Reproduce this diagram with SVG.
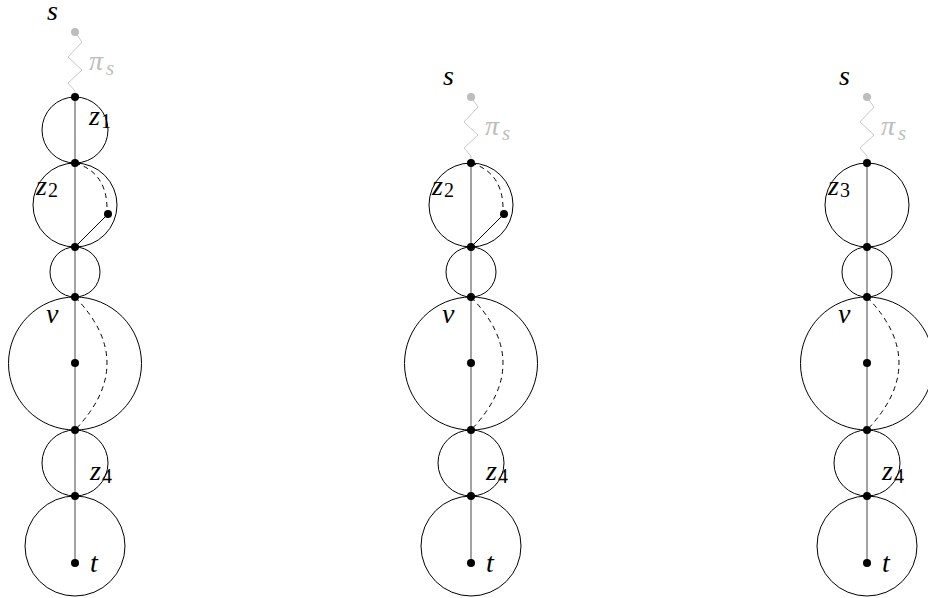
<svg xmlns="http://www.w3.org/2000/svg" width="928" height="598" viewBox="0 0 928 598">
<style>
.c{fill:none;stroke:#000;stroke-width:1}
.ax{stroke:#666;stroke-width:1.2}
.d{fill:none;stroke:#000;stroke-width:1;stroke-dasharray:5,4}
.n{fill:#000}
.g{fill:#bdbdbd}
.zz{fill:none;stroke:#c8c8c8;stroke-width:1}
.t{font-family:'Liberation Serif','Times New Roman',serif;font-style:italic;font-size:28px;fill:#000}
.tg{font-family:'Liberation Serif','Times New Roman',serif;font-style:italic;font-size:28px;fill:#bdbdbd}
.sb{font-size:20px;font-style:normal}
.sbi{font-size:21px}
</style>
<rect width="928" height="598" fill="#fff"/>
<g id="connectors">
  <path class="zz" d="M75,32 L82,42 L68,57 L82,70 L68,83 L75,91 L75,97"/>
  <line class="ax" x1="75" y1="97" x2="75" y2="563"/>
  <line class="c" x1="75" y1="247" x2="108" y2="214"/>
  <path class="d" d="M75,163 Q106,172 107,207"/>
  <path class="d" d="M75,297 Q139,363 75,430"/>
  <path class="zz" d="M471,97 L478,107 L464,122 L478,135 L464,148 L471,156 L471,163"/>
  <line class="ax" x1="471" y1="163" x2="471" y2="563"/>
  <line class="c" x1="471" y1="247" x2="504" y2="214"/>
  <path class="d" d="M471,163 Q502,172 503,207"/>
  <path class="d" d="M471,297 Q535,363 471,430"/>
  <path class="zz" d="M867,97 L874,107 L860,122 L874,135 L860,148 L867,156 L867,163"/>
  <line class="ax" x1="867" y1="163" x2="867" y2="563"/>
  <path class="d" d="M867,297 Q931,363 867,430"/>
</g>
<g id="column1">
  <g id="z1-block"><circle class="c" cx="75" cy="130" r="33"/></g>
  <g id="z2-block"><circle class="c" cx="75" cy="205" r="42"/></g>
  <g id="b3"><circle class="c" cx="75" cy="272" r="25"/></g>
  <g id="v-block"><circle class="c" cx="75" cy="363.5" r="66.5"/></g>
  <g id="z4-block"><circle class="c" cx="75" cy="463" r="33"/></g>
  <g id="t-block"><circle class="c" cx="75" cy="546" r="50"/></g>
  <g id="s1"><circle class="g" cx="75" cy="32" r="4"/><text class="t" x="47" y="20">s</text></g>
  <text class="tg" x="89" y="70">π<tspan class="sbi" x="106" y="75">s</tspan></text>
  <g id="c1n1"><circle class="n" cx="75" cy="97" r="4"/></g>
  <g id="c1n2"><circle class="n" cx="75" cy="163" r="4"/></g>
  <g id="c1n3"><circle class="n" cx="108" cy="214" r="4"/></g>
  <g id="c1n4"><circle class="n" cx="75" cy="247" r="4"/></g>
  <g id="c1v"><circle class="n" cx="75" cy="297" r="4"/></g>
  <g id="c1n6"><circle class="n" cx="75" cy="363" r="4"/></g>
  <g id="c1n7"><circle class="n" cx="75" cy="430" r="4"/></g>
  <g id="c1n8"><circle class="n" cx="75" cy="496" r="4"/></g>
  <g id="c1t"><circle class="n" cx="75" cy="563" r="4"/></g>
  <text class="t" x="89" y="125">z<tspan class="sb" x="101" y="128">1</tspan></text>
  <text class="t" x="36" y="195">z<tspan class="sb" x="48" y="197">2</tspan></text>
  <text class="t" x="46" y="323">v</text>
  <text class="t" x="90" y="480">z<tspan class="sb" x="102" y="483">4</tspan></text>
  <text class="t" x="90" y="572">t</text>
</g>
<g id="column2">
  <g id="c2z2"><circle class="c" cx="471" cy="205" r="42"/></g>
  <g id="c2b3"><circle class="c" cx="471" cy="272" r="25"/></g>
  <g id="c2v-block"><circle class="c" cx="471" cy="363.5" r="66.5"/></g>
  <g id="c2z4"><circle class="c" cx="471" cy="463" r="33"/></g>
  <g id="c2t-block"><circle class="c" cx="471" cy="546" r="50"/></g>
  <g id="s2"><circle class="g" cx="471" cy="97" r="4"/><text class="t" x="443" y="85">s</text></g>
  <text class="tg" x="485" y="135">π<tspan class="sbi" x="502" y="140">s</tspan></text>
  <g id="c2n2"><circle class="n" cx="471" cy="163" r="4"/></g>
  <g id="c2n3"><circle class="n" cx="504" cy="214" r="4"/></g>
  <g id="c2n4"><circle class="n" cx="471" cy="247" r="4"/></g>
  <g id="c2v"><circle class="n" cx="471" cy="297" r="4"/></g>
  <g id="c2n6"><circle class="n" cx="471" cy="363" r="4"/></g>
  <g id="c2n7"><circle class="n" cx="471" cy="430" r="4"/></g>
  <g id="c2n8"><circle class="n" cx="471" cy="496" r="4"/></g>
  <g id="c2t"><circle class="n" cx="471" cy="563" r="4"/></g>
  <text class="t" x="432" y="195">z<tspan class="sb" x="444" y="197">2</tspan></text>
  <text class="t" x="442" y="323">v</text>
  <text class="t" x="486" y="480">z<tspan class="sb" x="498" y="483">4</tspan></text>
  <text class="t" x="486" y="572">t</text>
</g>
<g id="column3">
  <g id="c3z3"><circle class="c" cx="867" cy="205" r="42"/></g>
  <g id="c3b3"><circle class="c" cx="867" cy="272" r="25"/></g>
  <g id="c3v-block"><circle class="c" cx="867" cy="363.5" r="66.5"/></g>
  <g id="c3z4"><circle class="c" cx="867" cy="463" r="33"/></g>
  <g id="c3t-block"><circle class="c" cx="867" cy="546" r="50"/></g>
  <g id="s3"><circle class="g" cx="867" cy="97" r="4"/><text class="t" x="839" y="85">s</text></g>
  <text class="tg" x="881" y="135">π<tspan class="sbi" x="898" y="140">s</tspan></text>
  <g id="c3n2"><circle class="n" cx="867" cy="163" r="4"/></g>
  <g id="c3n4"><circle class="n" cx="867" cy="247" r="4"/></g>
  <g id="c3v"><circle class="n" cx="867" cy="297" r="4"/></g>
  <g id="c3n6"><circle class="n" cx="867" cy="363" r="4"/></g>
  <g id="c3n7"><circle class="n" cx="867" cy="430" r="4"/></g>
  <g id="c3n8"><circle class="n" cx="867" cy="496" r="4"/></g>
  <g id="c3t"><circle class="n" cx="867" cy="563" r="4"/></g>
  <text class="t" x="828" y="195">z<tspan class="sb" x="840" y="197">3</tspan></text>
  <text class="t" x="838" y="323">v</text>
  <text class="t" x="882" y="480">z<tspan class="sb" x="894" y="483">4</tspan></text>
  <text class="t" x="882" y="572">t</text>
</g>
</svg>
